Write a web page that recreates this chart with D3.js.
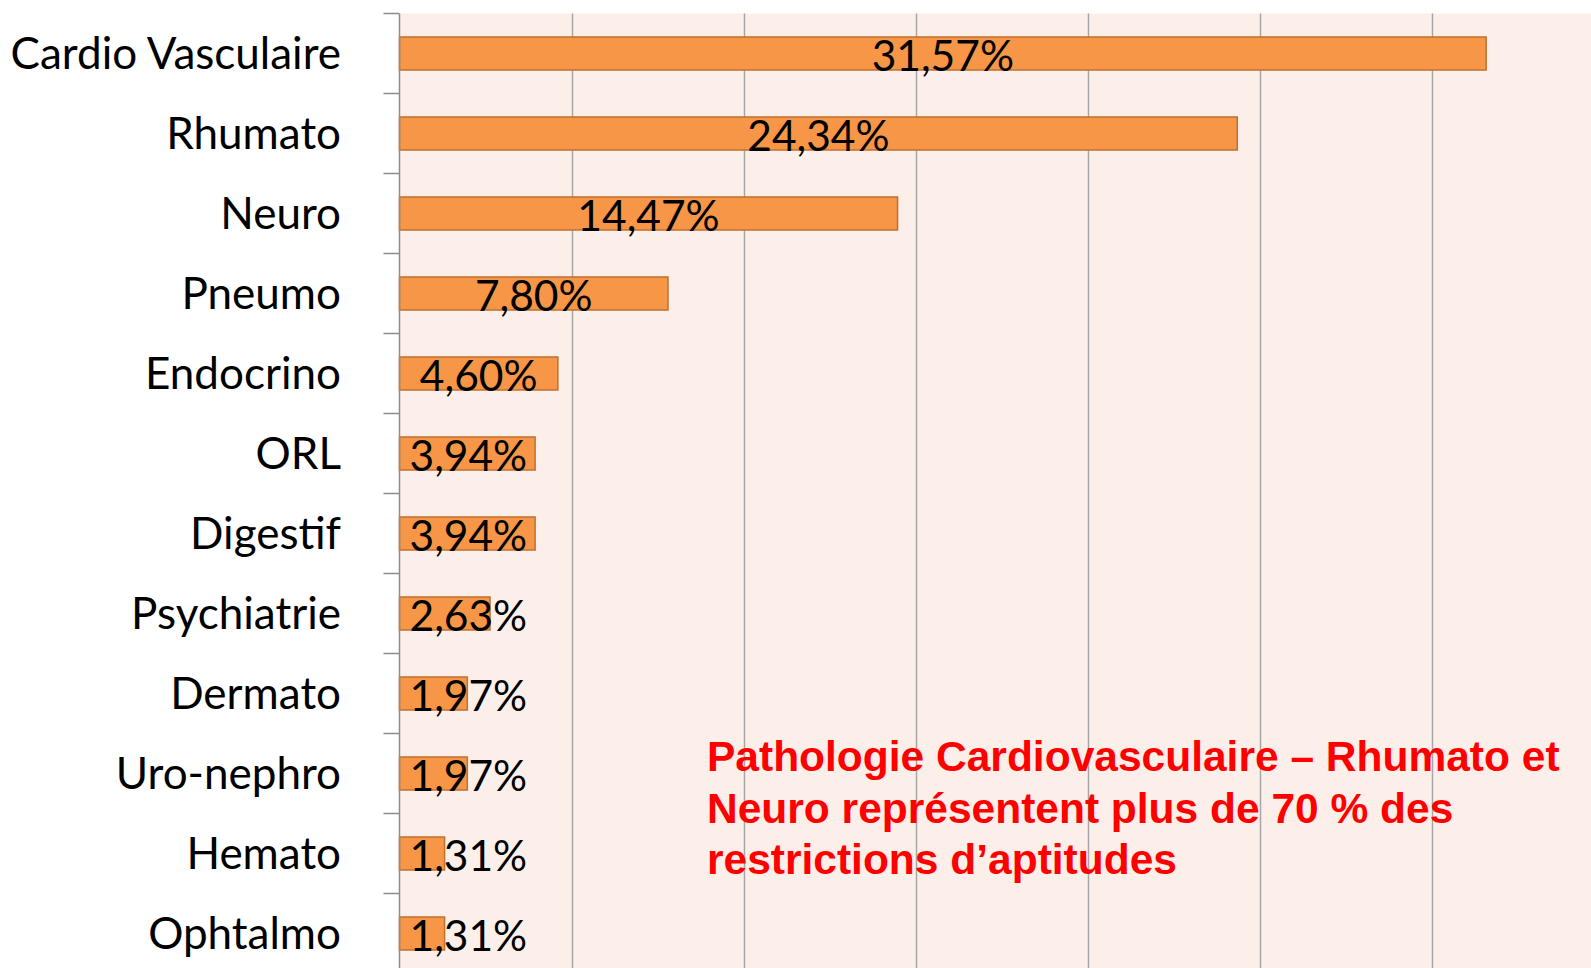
<!DOCTYPE html>
<html>
<head>
<meta charset="utf-8">
<script src="https://cdn.jsdelivr.net/npm/d3@7"></script>
<style>
  html, body { margin: 0; padding: 0; background: #fff; }
  svg { display: block; }
</style>
</head>
<body>
<div id="chart"></div>
<script>
// data
const categories = ["Cardio Vasculaire", "Rhumato", "Neuro", "Pneumo", "Endocrino", "ORL",
  "Digestif", "Psychiatrie", "Dermato", "Uro-nephro", "Hemato", "Ophtalmo"];
const values = [31.57, 24.34, 14.47, 7.80, 4.60, 3.94, 3.94, 2.63, 1.97, 1.97, 1.31, 1.31];
const gridTicks = [5, 10, 15, 20, 25, 30];
const annotationLines = [
  "Pathologie Cardiovasculaire \u2013 Rhumato et",
  "Neuro représentent plus de 70 % des",
  "restrictions d\u2019aptitudes"
];

const data = categories.map((c, i) => ({ name: c, value: values[i] }));

// set the dimensions
var width = 1591, height = 968;
var plot = { left: 399.5, top: 13.5, step: 80 };

var svg = d3.select("#chart")
  .append("svg")
  .attr("width", width)
  .attr("height", height);

// x runs past the right edge (chart is cropped in the source)
var x = d3.scaleLinear()
  .domain([0, 35])
  .range([plot.left, plot.left + 35 * 34.42]);

var pad = 0.5875;
var y = d3.scaleBand()
  .domain(categories)
  .range([plot.top, plot.top + plot.step * categories.length])
  .paddingInner(pad)
  .paddingOuter(pad / 2);

var slotTop = c => y(c) - (y.step() - y.bandwidth()) / 2;
var slotMid = c => slotTop(c) + y.step() / 2;

// plot background
svg.append("rect")
  .attr("x", x(0))
  .attr("y", plot.top)
  .attr("width", x(35) - x(0))
  .attr("height", height - plot.top)
  .style("fill", "#fcefea");

// vertical gridlines
svg.append("g")
  .selectAll("line")
  .data(gridTicks)
  .enter()
  .append("line")
  .attr("x1", d => Math.round(x(d)) + 0.5)
  .attr("x2", d => Math.round(x(d)) + 0.5)
  .attr("y1", plot.top)
  .attr("y2", height)
  .style("stroke", "#a6a6a6")
  .style("stroke-width", 1.5);

// bars
svg.append("g")
  .selectAll("rect")
  .data(data)
  .enter()
  .append("rect")
  .attr("x", x(0))
  .attr("y", d => y(d.name))
  .attr("width", d => x(d.value) - x(0))
  .attr("height", y.bandwidth())
  .style("fill", "#f79646")
  .style("stroke", "#c0702f")
  .style("stroke-width", 1.5);

// category axis: line + ticks at the band boundaries
var axis = svg.append("g").style("stroke", "#8c8c8c").style("stroke-width", 1.5);
axis.append("line")
  .attr("x1", x(0)).attr("x2", x(0))
  .attr("y1", plot.top).attr("y2", height);
axis.selectAll("line.tick")
  .data(categories)
  .enter()
  .append("line")
  .attr("class", "tick")
  .attr("x1", x(0) - 16).attr("x2", x(0))
  .attr("y1", d => slotTop(d)).attr("y2", d => slotTop(d));

// category labels
svg.append("g")
  .selectAll("text")
  .data(categories)
  .enter()
  .append("text")
  .attr("x", 341)
  .attr("y", d => slotMid(d))
  .attr("dy", "0.36em")
  .style("font-family", "Lato, 'Open Sans', sans-serif")
  .style("font-size", "44px")
  .style("fill", "#000")
  .style("text-anchor", "end")
  .text(d => d);

// value labels, centred on the bar but kept clear of the axis
var fr = d3.formatLocale({ decimal: ",", thousands: " ", grouping: [3], currency: ["", "€"] });
var fmt = v => fr.format(".2f")(v) + "%";

svg.append("g")
  .selectAll("text")
  .data(data)
  .enter()
  .append("text")
  .attr("y", d => slotMid(d.name))
  .attr("dy", "0.4em")
  .style("font-family", "Lato, 'Open Sans', sans-serif")
  .style("font-size", "42.5px")
  .style("fill", "#000")
  .style("text-anchor", "middle")
  .text(d => fmt(d.value))
  .attr("x", function (d) {
    var w = this.getComputedTextLength();
    return Math.max((x(0) + x(d.value)) / 2, x(0) + 10 + w / 2);
  });

// red annotation
svg.append("text")
  .attr("x", 707)
  .attr("y", 771)
  .style("font-family", "'Liberation Sans', Arial, sans-serif")
  .style("font-weight", "bold")
  .style("font-size", "42.5px")
  .style("fill", "#ff0000")
  .selectAll("tspan")
  .data(annotationLines)
  .enter()
  .append("tspan")
  .attr("x", 707)
  .attr("dy", (d, i) => i === 0 ? 0 : 51.5)
  .text(d => d);
</script>
</body>
</html>
